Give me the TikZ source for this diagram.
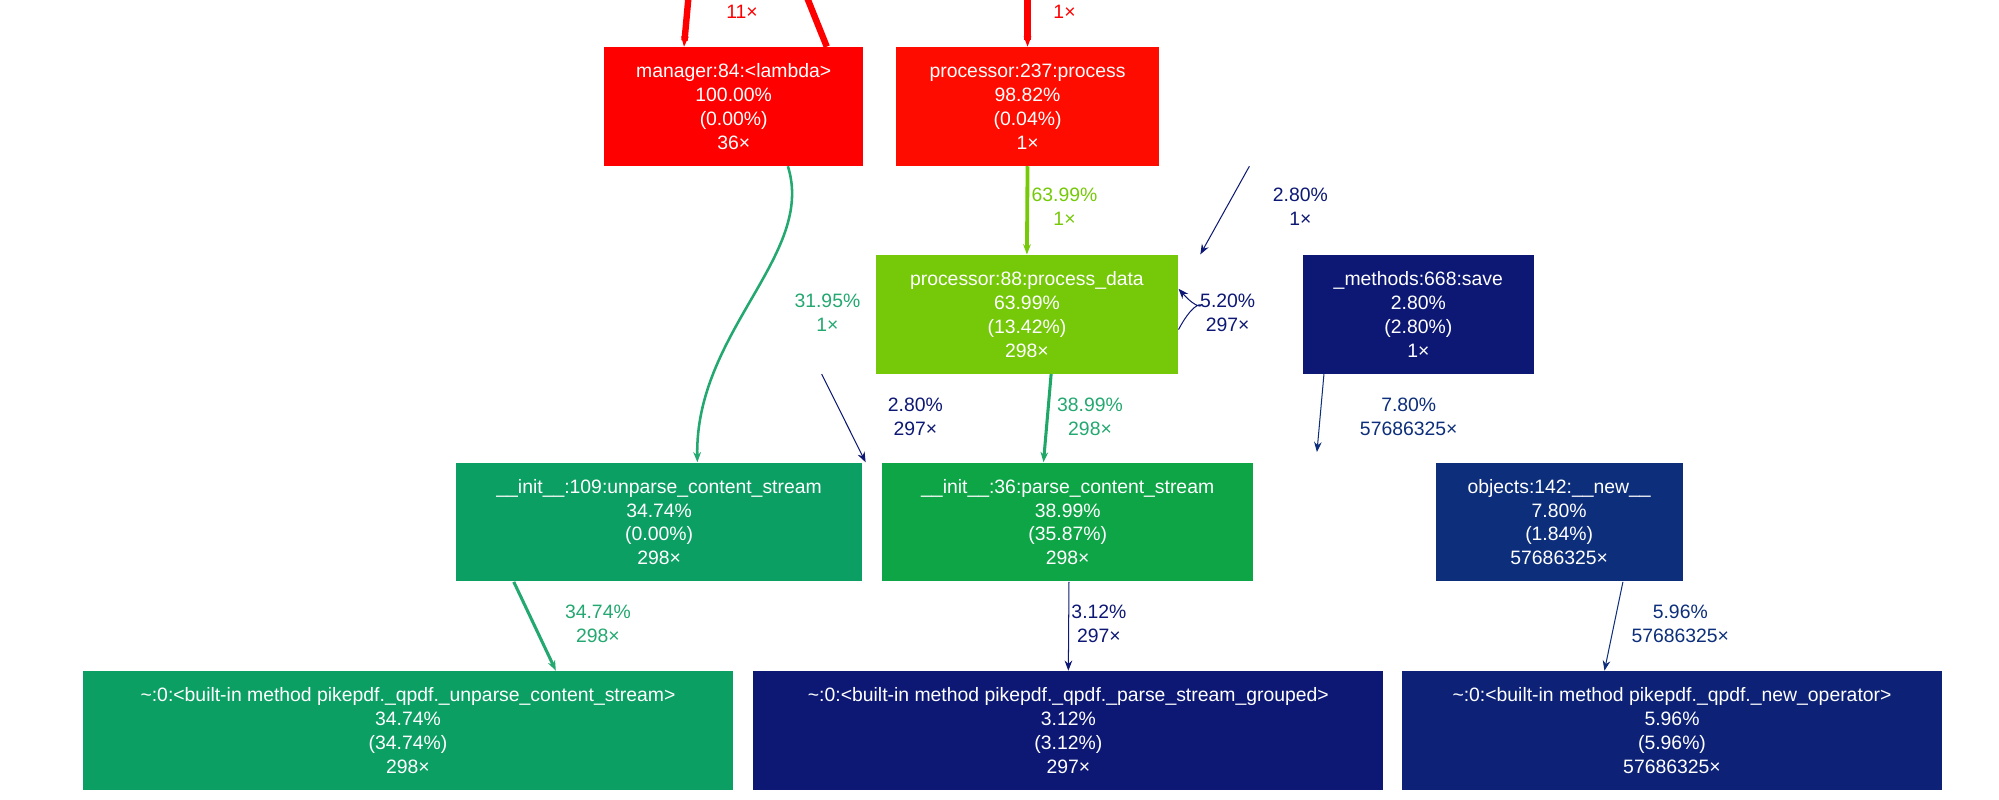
\documentclass[tikz,border=0pt]{standalone}
\usepackage{fontspec}
\setmainfont{Liberation Sans}
\usetikzlibrary{arrows.meta,calc}
\definecolor{cred}{RGB}{255,0,0}
\definecolor{cred2}{RGB}{254,12,0}
\definecolor{clime}{RGB}{117,201,8}
\definecolor{cnavy}{RGB}{13,24,116}
\definecolor{cteal}{RGB}{12,159,100}
\definecolor{cgreen}{RGB}{13,165,70}
\definecolor{cblue}{RGB}{13,46,122}
\definecolor{cblue2}{RGB}{13,34,119}
\definecolor{ltteal}{RGB}{35,168,112}
\begin{document}
\begin{tikzpicture}[x=0.5pt,y=-0.5pt,
 box/.style={draw=none,text=white,align=center,inner sep=0pt,font=\fontsize{7.6}{9.4}\selectfont,minimum height=46.5pt},
 lab/.style={align=center,font=\fontsize{7.6}{9.4}\selectfont},
 arr/.style={-{Stealth[length=4pt,width=3pt]}},
]
\useasboundingbox (0,0) rectangle (1568,627);
\node[box,fill=cred,minimum width=101.5pt] (m) at (575.5,83.5) {manager:84:<lambda>\\100.00\%\\(0.00\%)\\36×};
\node[box,fill=cred2,minimum width=103pt] (p) at (806,83.5) {processor:237:process\\98.82\%\\(0.04\%)\\1×};
\node[box,fill=clime,minimum width=118.5pt] (pd) at (805.5,246.5) {processor:88:process\_data\\63.99\%\\(13.42\%)\\298×};
\node[box,fill=cnavy,minimum width=90.5pt] (s) at (1112.5,246.5) {\_methods:668:save\\2.80\%\\(2.80\%)\\1×};
\node[box,fill=cteal,minimum width=159pt] (u) at (517,409.5) {\_\_init\_\_:109:unparse\_content\_stream\\34.74\%\\(0.00\%)\\298×};
\node[box,fill=cgreen,minimum width=145.5pt] (pc) at (837.5,409.5) {\_\_init\_\_:36:parse\_content\_stream\\38.99\%\\(35.87\%)\\298×};
\node[box,fill=cblue,minimum width=97pt] (o) at (1223,409.5) {objects:142:\_\_new\_\_\\7.80\%\\(1.84\%)\\57686325×};
\node[box,fill=cteal,minimum width=255pt] (b1) at (320,573) {\textasciitilde:0:<built-in method pikepdf.\_qpdf.\_unparse\_content\_stream>\\34.74\%\\(34.74\%)\\298×};
\node[box,fill=cnavy,minimum width=247pt] (b2) at (838,573) {\textasciitilde:0:<built-in method pikepdf.\_qpdf.\_parse\_stream\_grouped>\\3.12\%\\(3.12\%)\\297×};
\node[box,fill=cblue2,minimum width=211.5pt] (b3) at (1311.5,573) {\textasciitilde:0:<built-in method pikepdf.\_qpdf.\_new\_operator>\\5.96\%\\(5.96\%)\\57686325×};
\coordinate (t1) at (540,-2);
\coordinate (t2) at (633,-2);
\coordinate (t3) at (806,-2);
% top edges
\draw[cred,line width=2.5pt,arr] (t1) -- ([xshift=-19.5]m.north);
\draw[cred,line width=2.5pt] ([xshift=36.5]m.north) -- (t2);
\node[lab,text=cred] (l11) at (582,9) {11×};
\draw[cred,line width=2.5pt,arr] (t3) -- (p.north);
\node[lab,text=cred] (l1) at (835,9) {1×};
% processor edges
\draw[clime,line width=1.5pt,arr] (p.south) -- (pd.north);
\node[lab,text=clime] (lpd) at (835,162) {63.99\%\\1×};
\draw[ltteal,line width=1pt,arr] ([xshift=-94]p.south) .. controls (640,200) and (545,260) .. ([xshift=15]u.north);
\node[lab,text=ltteal] (lu) at (649,245) {31.95\%\\1×};
\draw[cnavy,line width=0.4pt,arr] ([xshift=87]p.south) -- ([xshift=-85.5]s.north);
\node[lab,text=cnavy] (ls) at (1020,162) {2.80\%\\1×};
\draw[cnavy,line width=0.4pt,arr] ([yshift=-6]pd.east) .. controls (945,220) and (950,255) .. ([yshift=10]pd.east);
\node[lab,text=cnavy] (lself) at (963,245) {5.20\%\\297×};
\draw[cnavy,line width=0.4pt,arr] ([xshift=-80.5]pd.south) -- ([xshift=81]u.north);
\node[lab,text=cnavy] (lpu) at (718,327) {2.80\%\\297×};
\draw[ltteal!80!cgreen,line width=1.2pt,arr] ([xshift=9.5]pd.south) -- ([xshift=-9.5]pc.north);
\node[lab,text=ltteal] (lpc) at (855,327) {38.99\%\\298×};
\draw[cblue,line width=0.4pt,arr] ([xshift=116.5]pd.south) -- ([xshift=-95,yshift=4]o.north);
\node[lab,text=cblue] (lo) at (1105,327) {7.80\%\\57686325×};
% bottom edges
\draw[ltteal,line width=1.2pt,arr] ([xshift=-57]u.south) -- ([xshift=58]b1.north);
\node[lab,text=ltteal] (lb1) at (469,489) {34.74\%\\298×};
\draw[cnavy,line width=0.4pt,arr] ([xshift=0.5]pc.south) -- (b2.north);
\node[lab,text=cnavy] (lb2) at (862,489) {3.12\%\\297×};
\draw[cblue,line width=0.4pt,arr] ([xshift=25]o.south) -- ([xshift=-26.5]b3.north);
\node[lab,text=cblue] (lb3) at (1318,489) {5.96\%\\57686325×};
\end{tikzpicture}
\end{document}
